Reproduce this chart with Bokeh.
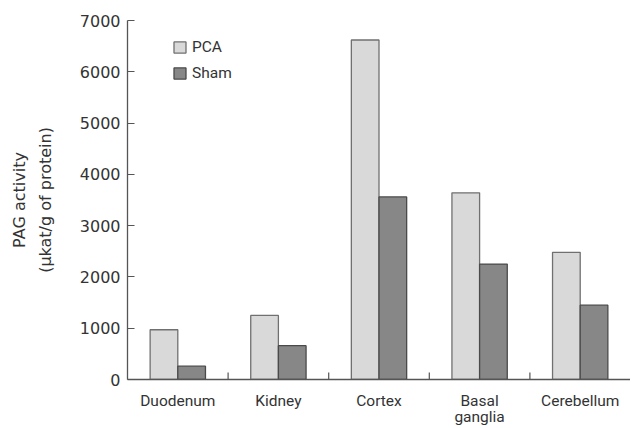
from bokeh.plotting import figure
from bokeh.models import ColumnDataSource, FactorRange, Range1d, FixedTicker, Legend, LegendItem
from bokeh.transform import dodge
from bokeh.embed import file_html
from bokeh.resources import INLINE

# ---- data ----
categories = ["Duodenum", "Kidney", "Cortex", "Basal\nganglia", "Cerebellum"]
pca_values = [970, 1250, 6620, 3640, 2480]
sham_values = [260, 660, 3560, 2250, 1450]
series_names = ["PCA", "Sham"]
y_tick_values = [0, 1000, 2000, 3000, 4000, 5000, 6000, 7000]
y_max = 7000
y_label = "PAG activity\n(\u03bckat/g of protein)"

# ---- layout / style ----
W, H = 630, 428
BORDER_L, BORDER_T, BORDER_B = 127, 20, 47
FRAME_H = H - BORDER_T - BORDER_B
AXIS_COLOR = "#555555"
TEXT_COLOR = "#333333"
BAR_W = 0.275

src = ColumnDataSource(dict(cat=categories, pca=pca_values, sham=sham_values))
bound_src = ColumnDataSource(dict(cat=categories[:-1], y0=[0] * (len(categories) - 1),
                                  y1=[7 * y_max / FRAME_H] * (len(categories) - 1)))

p = figure(width=W, height=H,
           x_range=FactorRange(factors=categories),
           y_range=Range1d(0, y_max),
           output_backend="svg", toolbar_location=None,
           min_border_left=BORDER_L, min_border_right=0,
           min_border_top=BORDER_T, min_border_bottom=BORDER_B)

p.outline_line_color = None
p.xgrid.grid_line_color = None
p.ygrid.grid_line_color = None
p.background_fill_color = "white"
p.border_fill_color = "white"

r_pca = p.vbar(x=dodge("cat", -BAR_W / 2, range=p.x_range), top="pca", width=BAR_W, source=src,
               fill_color="#d9d9d9", line_color="#707070", line_width=1.3)
r_sham = p.vbar(x=dodge("cat", BAR_W / 2, range=p.x_range), top="sham", width=BAR_W, source=src,
                fill_color="#878787", line_color="#4a4a4a", line_width=1.3)

# category boundary ticks on x axis (pointing up)
p.segment(x0=dodge("cat", 0.5, range=p.x_range), x1=dodge("cat", 0.5, range=p.x_range),
          y0="y0", y1="y1", source=bound_src, line_color=AXIS_COLOR, line_width=1.2)

# y axis
ya = p.yaxis[0]
ya.ticker = FixedTicker(ticks=y_tick_values)
ya.axis_line_color = AXIS_COLOR
ya.axis_line_width = 1.3
ya.major_tick_line_color = AXIS_COLOR
ya.major_tick_line_width = 1.2
ya.major_tick_in = 7
ya.major_tick_out = 0
ya.minor_tick_line_color = None
ya.major_label_standoff = 7
ya.major_label_text_font = "DejaVu Sans"
ya.major_label_text_font_size = "16px"
ya.major_label_text_color = TEXT_COLOR
ya.axis_label = y_label
ya.axis_label_text_font = "DejaVu Sans"
ya.axis_label_text_font_size = "16px"
ya.axis_label_text_font_style = "normal"
ya.axis_label_text_color = TEXT_COLOR
ya.axis_label_text_line_height = 1.35
ya.axis_label_standoff = 22

# x axis
xa = p.xaxis[0]
xa.axis_line_color = AXIS_COLOR
xa.axis_line_width = 1.3
xa.major_tick_line_color = None
xa.major_tick_in = 0
xa.major_tick_out = 0
xa.minor_tick_line_color = None
xa.major_label_standoff = 12
xa.major_label_text_font = "Roboto"
xa.major_label_text_font_size = "15.5px"
xa.major_label_text_color = TEXT_COLOR
xa.major_label_text_line_height = 0.9

legend = Legend(items=[LegendItem(label=series_names[0], renderers=[r_pca]),
                       LegendItem(label=series_names[1], renderers=[r_sham])],
                location=(45, 297), orientation="vertical",
                padding=0, spacing=8, margin=0,
                glyph_width=15, glyph_height=14, label_height=14, label_standoff=5,
                label_text_font="Roboto", label_text_font_size="15.5px",
                label_text_color=TEXT_COLOR,
                border_line_color=None, background_fill_alpha=0)
p.add_layout(legend, "center")

open("out.html", "w").write(file_html(p, INLINE))
